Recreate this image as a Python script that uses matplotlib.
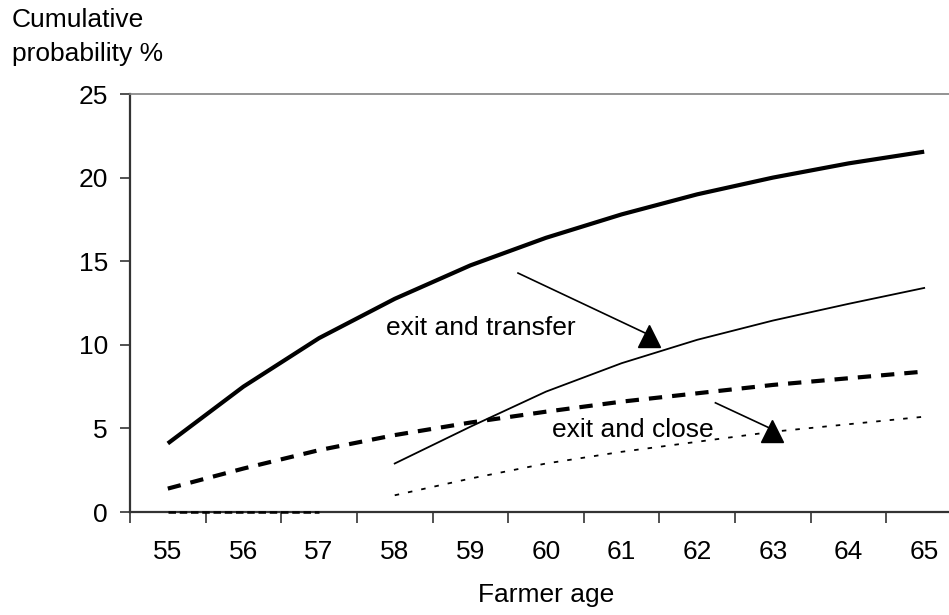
import matplotlib
matplotlib.use('Agg')
import matplotlib.pyplot as plt
import numpy as np

# data
ages = [55, 56, 57, 58, 59, 60, 61, 62, 63, 64, 65]
exit_total = [4.1, 7.5, 10.4, 12.75, 14.75, 16.4, 17.8, 19.0, 20.0, 20.85, 21.55]
exit_any_dashed = [1.4, 2.6, 3.7, 4.6, 5.35, 6.0, 6.6, 7.1, 7.6, 8.0, 8.4]
transfer_ages = [58, 59, 60, 61, 62, 63, 64, 65]
exit_transfer = [2.9, 5.1, 7.2, 8.9, 10.3, 11.45, 12.45, 13.4]
close_ages = [58, 59, 60, 61, 62, 63, 64, 65]
exit_close = [1.0, 2.0, 2.9, 3.6, 4.2, 4.8, 5.25, 5.7]
early_ages = [55, 56, 57]
early_vals = [0.0, 0.0, 0.0]
yticks = [0, 5, 10, 15, 20, 25]

plt.rcParams['font.family'] = ['Liberation Sans', 'DejaVu Sans']
plt.rcParams['font.size'] = 19

fig = plt.figure(figsize=(9.49, 6.15), dpi=100)
ax = fig.add_axes([130 / 949, 103 / 615, 832 / 949, 418 / 615])

ax.plot(ages, exit_total, color='black', lw=3.0, solid_capstyle='butt')
ax.plot(ages, exit_any_dashed, color='black', lw=3.0, dashes=(3.2, 2.4))
ax.plot(transfer_ages, exit_transfer, color='black', lw=1.3)
ax.plot(close_ages, exit_close, color='black', lw=1.3, dashes=(2.5, 5))
ax.plot(early_ages, early_vals, color='black', lw=1.8, dashes=(3, 1.5),
        clip_on=False, zorder=5)

ax.set_xlim(54.5, 65.5)
ax.set_ylim(0, 25)
ax.set_yticks(yticks)
ax.set_xticks(np.arange(54.5, 66.0, 1.0))
ax.set_xticklabels([])
ax.set_xticks(ages, minor=True)
ax.set_xticklabels([str(a) for a in ages], minor=True)
ax.tick_params(axis='x', which='major', direction='out', length=8, width=1.2,
               color='#333333')
ax.tick_params(axis='x', which='minor', length=0, pad=20)
ax.tick_params(axis='y', direction='out', length=7, width=1.2,
               color='#333333', pad=9)

for side in ('left', 'bottom'):
    ax.spines[side].set_color('#333333')
    ax.spines[side].set_linewidth(1.6)
ax.spines['top'].set_color('#808080')
ax.spines['top'].set_linewidth(1.2)
ax.spines['right'].set_visible(False)

ax.set_xlabel('Farmer age', labelpad=14)
fig.text(12 / 949, 1 - 8 / 615, 'Cumulative\nprobability %', ha='left',
         va='top', linespacing=1.55, fontsize=19)

# annotations
ax.text(57.885, 11.0, 'exit and transfer', ha='left', va='center', fontsize=19)
ax.plot([59.63, 61.36], [14.29, 10.6], color='black', lw=1.2)
ax.plot([61.36], [10.5], marker='^', color='black', markersize=16)

ax.text(60.08, 4.9, 'exit and close', ha='left', va='center', fontsize=19)
ax.plot([62.24, 62.99], [6.53, 4.95], color='black', lw=1.2)
ax.plot([62.99], [4.85], marker='^', color='black', markersize=16)

fig.savefig('out.png', dpi=100, facecolor='white')
